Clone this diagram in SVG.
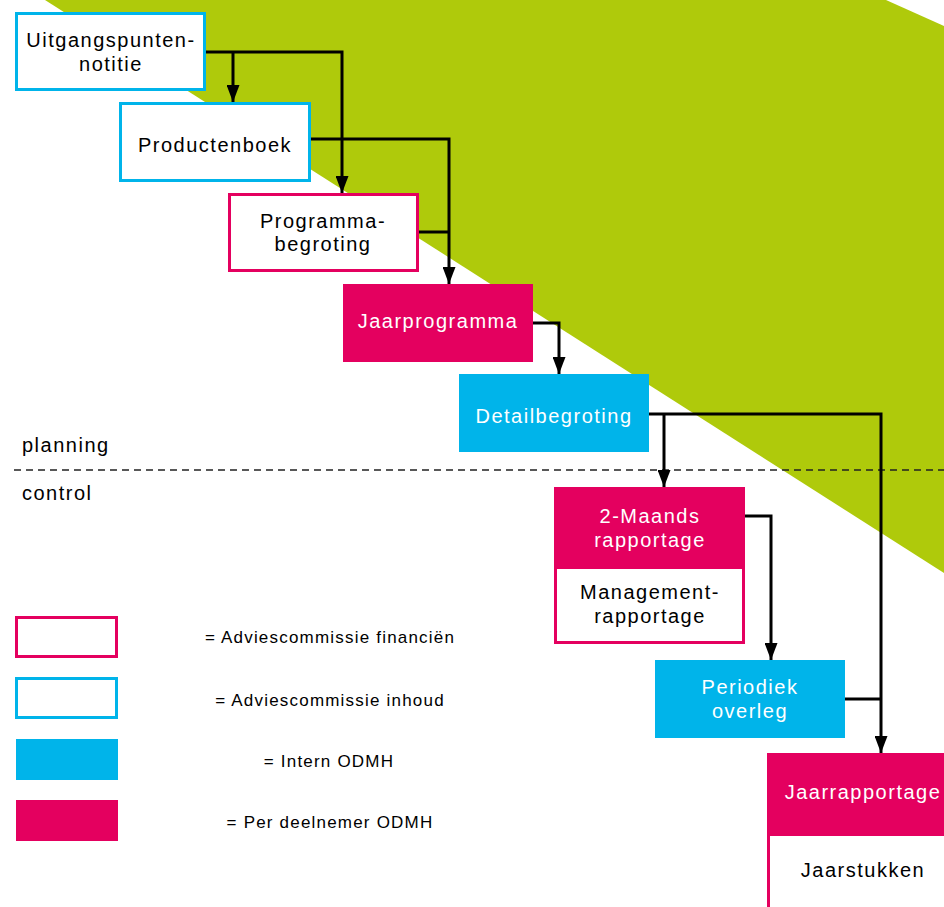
<svg xmlns="http://www.w3.org/2000/svg" width="944" height="907" viewBox="0 0 944 907">
<defs>
<style>
text{font-family:"Liberation Sans",Arial,sans-serif;font-size:20px;letter-spacing:1.5px;text-anchor:middle;fill:#000}
.w{fill:#fff}
.lbl{text-anchor:start}
.leg{font-size:17px;letter-spacing:1.2px}
.oc{fill:#fff;stroke:#00B4EA;stroke-width:3}
.op{fill:#fff;stroke:#E4005F;stroke-width:3}
.fc{fill:#00B4EA}
.fp{fill:#E4005F}
.con path{fill:none;stroke:#000;stroke-width:3}
</style>
<marker id="ah" markerUnits="userSpaceOnUse" markerWidth="17" markerHeight="13" viewBox="0 0 17 13" refX="17" refY="6.5" orient="auto">
<path d="M0,0 L17,6.5 L0,13 z" fill="#000"/>
</marker>
</defs>
<rect width="944" height="907" fill="#fff"/>
<polygon points="45,0 886,0 944,26 944,573" fill="#AFCA0B"/>
<line x1="14" y1="470" x2="944" y2="470" stroke="#222" stroke-width="1.5" stroke-dasharray="7,5"/>
<text class="lbl" x="22" y="452">planning</text>
<text class="lbl" x="22" y="500">control</text>
<g id="n1"><rect class="oc" x="16.5" y="13.5" width="188" height="76"/><text x="111" y="47">Uitgangspunten-</text><text x="111" y="71">notitie</text></g>
<g id="n2"><rect class="oc" x="120.5" y="103.5" width="189" height="77"/><text x="215" y="152">Productenboek</text></g>
<g id="n3"><rect class="op" x="229.5" y="194.5" width="188" height="76"/><text x="323" y="228">Programma-</text><text x="323" y="251">begroting</text></g>
<g id="n4"><rect class="fp" x="343" y="284" width="190" height="78"/><text class="w" x="438" y="328">Jaarprogramma</text></g>
<g id="n5"><rect class="fc" x="459" y="374" width="190" height="78"/><text class="w" x="554" y="423">Detailbegroting</text></g>
<g id="n6"><rect class="fp" x="554" y="487" width="191" height="80"/><rect class="op" x="555.5" y="567.5" width="188" height="75"/><text class="w" x="650" y="523">2-Maands</text><text class="w" x="650" y="547">rapportage</text><text x="650" y="599">Management-</text><text x="650" y="623">rapportage</text></g>
<g id="n7"><rect class="fc" x="655" y="660" width="190" height="78"/><text class="w" x="750" y="694">Periodiek</text><text class="w" x="750" y="718">overleg</text></g>
<g id="n8"><rect class="fp" x="767" y="753" width="192" height="81"/><rect class="op" x="768.5" y="834.5" width="189" height="90"/><text class="w" x="863" y="799">Jaarrapportage</text><text x="863" y="877">Jaarstukken</text></g>
<g id="legend">
<rect class="op" x="16.5" y="617.5" width="100" height="39"/><text class="leg" x="330" y="643">= Adviescommissie financiën</text>
<rect class="oc" x="16.5" y="678.5" width="100" height="39"/><text class="leg" x="330" y="706">= Adviescommissie inhoud</text>
<rect class="fc" x="16" y="739" width="102" height="41"/><text class="leg" x="329" y="767">= Intern ODMH</text>
<rect class="fp" x="16" y="800" width="102" height="41"/><text class="leg" x="330" y="828">= Per deelnemer ODMH</text>
</g>
<g id="connectors" class="con">
<path d="M206,52 H342 V193" marker-end="url(#ah)"/>
<path d="M233,52 V102" marker-end="url(#ah)"/>
<path d="M311,139 H449 V284" marker-end="url(#ah)"/>
<path d="M419,232 H449"/>
<path d="M533,323 H559 V374" marker-end="url(#ah)"/>
<path d="M649,414 H881 V753" marker-end="url(#ah)"/>
<path d="M664,414 V487" marker-end="url(#ah)"/>
<path d="M745,516 H771 V660" marker-end="url(#ah)"/>
<path d="M845,699 H881"/>
</g>
</svg>
